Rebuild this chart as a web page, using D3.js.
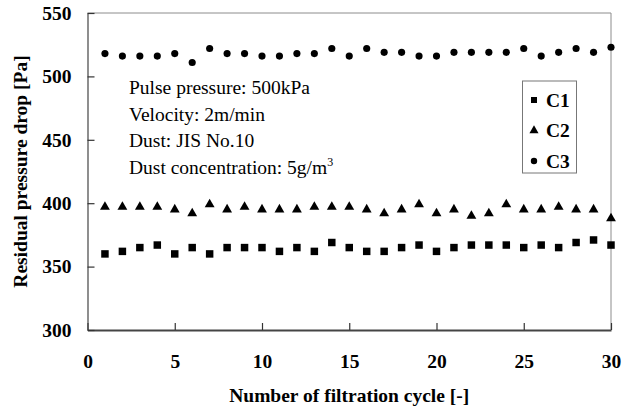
<!DOCTYPE html>
<html>
<head>
<meta charset="utf-8">
<script src="https://cdn.jsdelivr.net/npm/d3@7"></script>
<style>
  body { margin: 0; background: #fff; }
  svg text { font-family: "Times New Roman", "Liberation Serif", serif; fill: #000; }
</style>
</head>
<body>
<div id="chart"></div>
<script>

var cycles = d3.range(1, 31);

var c1 = [360,362,365,367,360,365,360,365,365,365,362,365,362,369,365,
          362,362,365,367,362,365,367,367,367,365,367,365,369,371,367];
var c2 = [397,397,397,397,395,392,399,395,397,395,395,395,397,397,397,
          395,392,395,399,392,395,390,392,399,395,395,397,395,395,388];
var c3 = [518,516,516,516,518,511,522,518,518,516,516,518,518,522,516,
          522,519,519,516,516,519,519,519,519,522,516,519,522,519,523];

var series_names = ["C1", "C2", "C3"];
var x_ticks = [0, 5, 10, 15, 20, 25, 30];
var y_ticks = [300, 350, 400, 450, 500, 550];
var notes = ["Pulse pressure: 500kPa", "Velocity: 2m/min", "Dust: JIS No.10", "Dust concentration: 5g/m"];

var width = 622, height = 412;
var fontsize = 19.5;

var canvas = d3.select("#chart")
  .append("svg:svg")
  .attr("width", width)
  .attr("height", height);

var xscale = d3.scaleLinear().domain([0, 30]).range([87.5, 611]);
var yscale = d3.scaleLinear().domain([300, 550]).range([330, 13]);

// top + right frame (light)
canvas.append("svg:line")
  .attr("x1", xscale(0)).attr("x2", xscale(30))
  .attr("y1", yscale(550)).attr("y2", yscale(550))
  .attr("stroke", "#8c8c8c").attr("stroke-width", 1);
canvas.append("svg:line")
  .attr("x1", xscale(30)).attr("x2", xscale(30))
  .attr("y1", yscale(550)).attr("y2", yscale(300))
  .attr("stroke", "#8c8c8c").attr("stroke-width", 1);

var xaxis = d3.axisBottom(xscale).tickValues(x_ticks)
  .tickSizeInner(-7).tickSizeOuter(0).tickPadding(24);
var yaxis = d3.axisLeft(yscale).tickValues(y_ticks)
  .tickSizeInner(-7).tickSizeOuter(0).tickPadding(16);

var gx = canvas.append("svg:g")
  .attr("transform", "translate(0," + yscale(300) + ")")
  .call(xaxis);
var gy = canvas.append("svg:g")
  .attr("transform", "translate(" + xscale(0) + ",0)")
  .call(yaxis);

gx.select(".domain").attr("stroke", "#444").attr("stroke-width", 2);
gy.select(".domain").attr("stroke", "#444").attr("stroke-width", 1.2);
canvas.selectAll(".tick line").attr("stroke", "#333").attr("stroke-width", 1.2);
canvas.selectAll(".tick text")
  .attr("font-size", fontsize)
  .attr("font-weight", "bold")
  .attr("font-family", "'Times New Roman', 'Liberation Serif', serif");

// axis titles
canvas.append("svg:text")
  .attr("x", (xscale(0) + xscale(30)) / 2)
  .attr("y", 402)
  .attr("text-anchor", "middle")
  .attr("font-size", fontsize)
  .attr("font-weight", "bold")
  .text("Number of filtration cycle [-]");

canvas.append("svg:text")
  .attr("transform", "translate(27," + ((yscale(300) + yscale(550)) / 2) + ") rotate(-90)")
  .attr("text-anchor", "middle")
  .attr("font-size", fontsize)
  .attr("font-weight", "bold")
  .text("Residual pressure drop [Pa]");

// data points
var symbols = [
  d3.symbol(d3.symbolSquare, 56),
  d3.symbol(d3.symbolTriangle, 42),
  d3.symbol(d3.symbolCircle, 40)
];
var all_series = [c1, c2, c3];

for (var s = 0; s < all_series.length; s++) {
  canvas.append("svg:g").selectAll("path")
    .data(all_series[s])
    .enter().append("svg:path")
    .attr("d", symbols[s])
    .attr("fill", "#000")
    .attr("transform", function(v, i){
      return "translate(" + xscale(cycles[i]) + "," + yscale(v) + ")";
    });
}

// conditions text
var notes_g = canvas.append("svg:g");
notes.forEach(function(t, i){
  var txt = notes_g.append("svg:text")
    .attr("x", 129)
    .attr("y", 94 + i * 26.5)
    .attr("font-size", fontsize)
    .text(t);
  if (i == notes.length - 1) {
    txt.append("svg:tspan").attr("font-size", 12).attr("dy", -8).text("3");
  }
});

// legend
var legend = canvas.append("svg:g");
legend.append("svg:rect")
  .attr("x", 522.5).attr("y", 81)
  .attr("width", 54).attr("height", 92)
  .attr("fill", "#fff")
  .attr("stroke", "#777").attr("stroke-width", 1);

var legend_symbols = [
  d3.symbol(d3.symbolSquare, 36),
  d3.symbol(d3.symbolTriangle, 36),
  d3.symbol(d3.symbolCircle, 32)
];
series_names.forEach(function(name, i){
  var ly = 100 + i * 30.5;
  legend.append("svg:path")
    .attr("d", legend_symbols[i])
    .attr("fill", "#000")
    .attr("transform", "translate(534," + ly + ")");
  legend.append("svg:text")
    .attr("x", 546)
    .attr("y", ly)
    .attr("dy", "0.35em")
    .attr("font-size", fontsize)
    .attr("font-weight", "bold")
    .text(name);
});

</script>
</body>
</html>
